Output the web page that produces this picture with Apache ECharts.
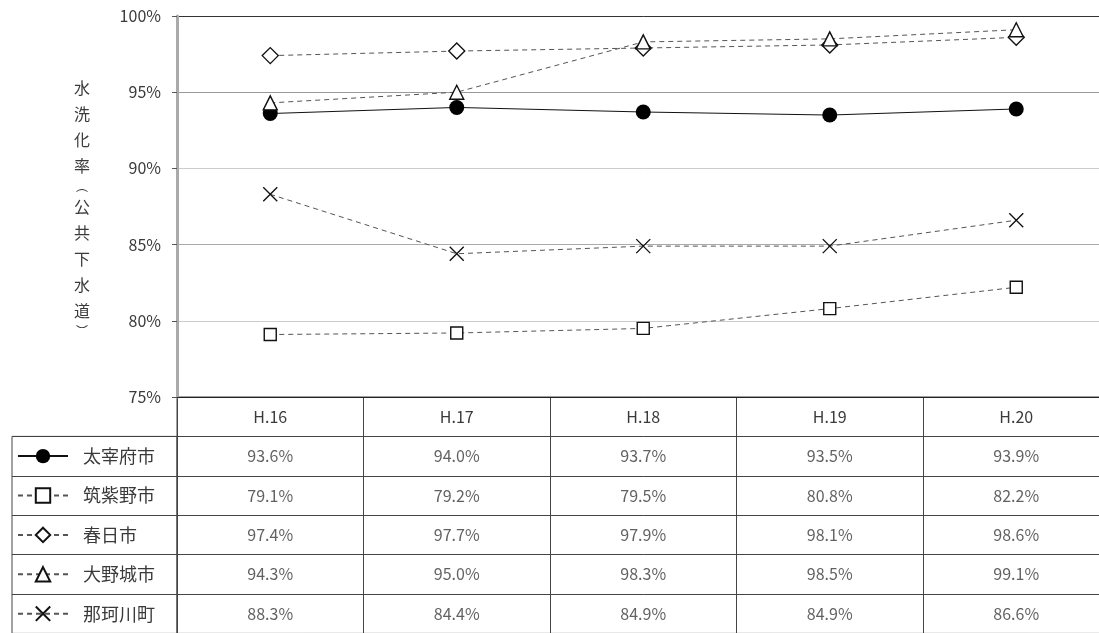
<!DOCTYPE html>
<html>
<head>
<meta charset="utf-8">
<script src="https://cdn.jsdelivr.net/npm/echarts@6/dist/echarts.min.js"></script>
<style>
  html, body { margin: 0; padding: 0; background: #fff; overflow: hidden; }
  #chart { width: 1112px; height: 642px; }
</style>
</head>
<body>
<div id="chart"></div>
<script>
// Fiscal years (Heisei)
const years = ['H.16', 'H.17', 'H.18', 'H.19', 'H.20'];

// Sewer flush-toilet rate (%) per municipality
const dazaifu      = [93.6, 94.0, 93.7, 93.5, 93.9];
const chikushino   = [79.1, 79.2, 79.5, 80.8, 82.2];
const kasuga       = [97.4, 97.7, 97.9, 98.1, 98.6];
const onojo        = [94.3, 95.0, 98.3, 98.5, 99.1];
const nakagawa     = [88.3, 84.4, 84.9, 84.9, 86.6];

const cityNames = ['太宰府市', '筑紫野市', '春日市', '大野城市', '那珂川町'];
const cityValues = [dazaifu, chikushino, kasuga, onojo, nakagawa];

// Y axis ticks
const yMin = 75, yMax = 100, yStep = 5;

const FONT = '"Noto Sans CJK JP", "Noto Sans", sans-serif';
const TEXT = '#3a3a3a';
const LINE = '#444';
const crossPath = 'path://M0,0L10,10M10,0L0,10';

const markerStyles = [
  { symbol: 'circle',   size: 15, fill: '#000', dashed: false },
  { symbol: 'rect',     size: 12, fill: '#fff', dashed: true },
  { symbol: 'diamond',  size: 16, fill: '#fff', dashed: true },
  { symbol: 'triangle', size: 14, fill: '#fff', dashed: true },
  { symbol: crossPath,  size: 14, fill: 'transparent', dashed: true }
];

const lineSeries = cityNames.map((name, i) => {
  const m = markerStyles[i];
  return {
    name: name,
    type: 'line',
    xAxisIndex: 0,
    yAxisIndex: 0,
    data: cityValues[i],
    symbol: m.symbol,
    symbolSize: m.size,
    symbolKeepAspect: true,
    showAllSymbol: true,
    lineStyle: { color: m.dashed ? '#555' : '#111', width: 1, type: m.dashed ? [5, 4] : 'solid' },
    itemStyle: { color: m.fill, borderColor: '#111', borderWidth: m.symbol === 'circle' ? 0 : 1.4 },
    emphasis: { disabled: true },
    z: 5 + i
  };
});

// Table cells (value row for each city)
const rowKeys = [' '].concat(cityNames);
const cellData = [];
cityNames.forEach((name, r) => {
  cityValues[r].forEach((v, c) => {
    cellData.push([years[c], name, v]);
  });
});

const tableSeries = {
  name: 'table',
  type: 'scatter',
  xAxisIndex: 1,
  yAxisIndex: 1,
  data: cellData,
  symbolSize: 0,
  silent: true,
  label: {
    show: true,
    position: 'inside',
    formatter: p => p.value[2].toFixed(1) + '%',
    fontFamily: FONT,
    fontSize: 16,
    color: TEXT
  }
};

// Empty series to hold the legend-column grid
const legendColSeries = {
  name: 'legendcol',
  type: 'scatter',
  xAxisIndex: 2,
  yAxisIndex: 2,
  data: [],
  silent: true
};

const chart = echarts.init(document.getElementById('chart'), null, { renderer: 'canvas' });

const bandW = 186.5;
const plotLeft = 177;
const plotTop = 16;
const plotBottom = 397;
const rowH = 39.4;
const legendItemH = 18;

chart.setOption({
  animation: false,
  backgroundColor: '#fff',
  textStyle: { fontFamily: FONT },
  grid: [
    { left: plotLeft, top: plotTop, width: bandW * 5, height: plotBottom - plotTop, containLabel: false },
    { left: plotLeft, top: plotBottom, width: bandW * 5, height: rowH * 6, show: true, borderColor: LINE, borderWidth: 1 },
    { left: 12, top: plotBottom + rowH, width: plotLeft - 12, height: rowH * 5, show: true, borderColor: LINE, borderWidth: 1 }
  ],
  legend: {
    data: cityNames,
    orient: 'vertical',
    left: 17,
    top: plotBottom + rowH + (rowH - legendItemH) / 2,
    padding: 0,
    itemWidth: 50,
    itemHeight: legendItemH,
    itemGap: rowH - legendItemH,
    selectedMode: false,
    textStyle: { fontFamily: FONT, fontSize: 18, color: TEXT, lineHeight: legendItemH, padding: [0, 0, 0, 10] }
  },
  xAxis: [
    {
      type: 'category',
      gridIndex: 0,
      data: years,
      boundaryGap: true,
      axisLine: { lineStyle: { color: '#222', width: 1 } },
      axisTick: { show: false },
      axisLabel: { fontFamily: FONT, fontSize: 16, color: TEXT, margin: 12 },
      splitLine: { show: false }
    },
    {
      type: 'category',
      gridIndex: 1,
      data: years,
      boundaryGap: true,
      axisLine: { show: false },
      axisTick: { show: false },
      axisLabel: { show: false },
      splitLine: { show: true, lineStyle: { color: LINE, width: 1 } }
    },
    {
      type: 'category',
      gridIndex: 2,
      data: [''],
      axisLine: { show: false },
      axisTick: { show: false },
      axisLabel: { show: false },
      splitLine: { show: false }
    }
  ],
  yAxis: [
    {
      type: 'value',
      gridIndex: 0,
      min: yMin,
      max: yMax,
      interval: yStep,
      name: '水\n洗\n化\n率\n{p|︵}\n公\n共\n下\n水\n道\n{p|︶}',
      nameLocation: 'middle',
      nameRotate: 0,
      nameGap: 95,
      nameTextStyle: {
        fontFamily: FONT, fontSize: 16, color: TEXT, lineHeight: 26,
        align: 'center', verticalAlign: 'middle',
        rich: { p: { fontFamily: FONT, fontSize: 12, lineHeight: 15, color: TEXT } }
      },
      axisLine: { show: true, lineStyle: { color: '#aaa', width: 3 } },
      axisTick: { show: true, length: 5, lineStyle: { color: '#555' } },
      axisLabel: { fontFamily: FONT, fontSize: 16, color: TEXT, margin: 16, formatter: v => v + '%' },
      splitLine: { show: true, lineStyle: { color: ['#333', '#ccc', '#aaa', '#ccc', '#999', '#333'], width: 1 } }
    },
    {
      type: 'category',
      gridIndex: 1,
      data: rowKeys,
      inverse: true,
      axisLine: { show: false },
      axisTick: { show: false },
      axisLabel: { show: false },
      splitLine: { show: true, lineStyle: { color: LINE, width: 1 } }
    },
    {
      type: 'category',
      gridIndex: 2,
      data: cityNames,
      inverse: true,
      boundaryGap: true,
      axisLine: { show: false },
      axisTick: { show: false },
      axisLabel: { show: false },
      splitLine: { show: true, lineStyle: { color: LINE, width: 1 } }
    }
  ],
  series: lineSeries.concat([tableSeries, legendColSeries])
});
</script>
</body>
</html>
